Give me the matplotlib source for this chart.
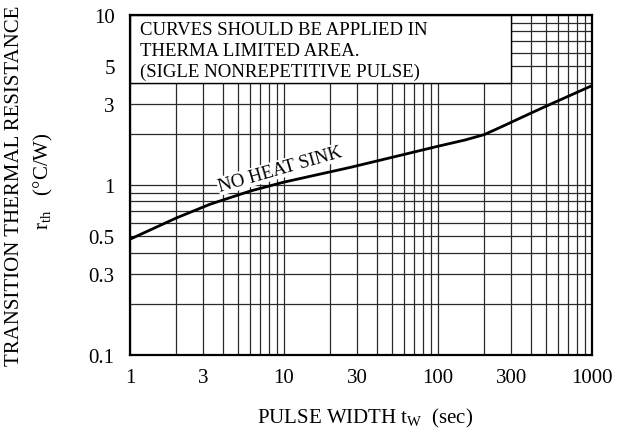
import numpy as np
import matplotlib
matplotlib.use("Agg")
import matplotlib.pyplot as plt
from matplotlib.patches import Rectangle
from matplotlib.ticker import FixedLocator, NullFormatter, LogLocator

plt.rcParams['font.family'] = ['Liberation Serif', 'DejaVu Serif']
plt.rcParams['mathtext.fontset'] = 'custom'
plt.rcParams['mathtext.rm'] = 'Liberation Serif'

# values
pulse_width = [1, 2, 3.3, 6, 10, 27, 100, 150, 200, 270, 350, 500, 1000]
r_th = [0.48, 0.64, 0.77, 0.92, 1.04, 1.27, 1.69, 1.84, 1.98, 2.24, 2.5, 2.9, 3.84]

x_ticks = [1, 3, 10, 30, 100, 300, 1000]
x_tick_labels = ["1", "3", "10", "30", "100", "300", "1000"]
y_ticks = [0.1, 0.3, 0.5, 1, 3, 5, 10]
y_tick_labels = ["0.1", "0.3", "0.5", "1", "3", "5", "10"]

note_lines = ["CURVES SHOULD BE APPLIED IN",
              "THERMA LIMITED AREA.",
              "(SIGLE NONREPETITIVE PULSE)"]

fig = plt.figure(figsize=(6.23, 4.39), dpi=100)
ax = fig.add_axes([0.2087, 0.189, 0.7415, 0.7746])

ax.set_xscale("log")
ax.set_yscale("log")
ax.set_xlim(1, 1000)
ax.set_ylim(0.1, 10)

ax.xaxis.set_major_locator(FixedLocator(x_ticks))
ax.set_xticklabels(x_tick_labels)
ax.yaxis.set_major_locator(FixedLocator(y_ticks))
ax.set_yticklabels(y_tick_labels)
ax.xaxis.set_minor_locator(LogLocator(base=10, subs=np.arange(1, 10)))
ax.yaxis.set_minor_locator(LogLocator(base=10, subs=np.arange(1, 10)))
ax.xaxis.set_minor_formatter(NullFormatter())
ax.yaxis.set_minor_formatter(NullFormatter())
ax.tick_params(which="both", length=0, labelsize=15)
ax.tick_params(axis="y", pad=11)
ax.tick_params(axis="x", pad=9)

ax.set_axisbelow(True)
ax.grid(which="both", color="#2a2a2a", lw=0.9)
for s in ax.spines.values():
    s.set_linewidth(1.6)

# white note box over the grid
ax.add_patch(Rectangle((1, 4), 299, 6, facecolor="white", edgecolor="black",
                       lw=1.0, zorder=1))
for i, line in enumerate(note_lines):
    ax.text(0.0216, 0.944 - i * 0.0615, line, transform=ax.transAxes,
            fontsize=13.5, va="baseline", ha="left", zorder=3)

ax.plot(pulse_width, r_th, color="black", lw=2.0, zorder=4)

ax.text(9.4, 1.24, "NO HEAT SINK", rotation=16, ha="center", va="center",
        fontsize=13.5, zorder=3,
        bbox=dict(facecolor="white", edgecolor="none", pad=0.5))

fig.text(15 / 623, 1 - 186 / 439, "TRANSITION THERMAL RESISTANCE",
         rotation=90, ha="center", va="center", fontsize=15)
fig.text(43 / 623, 1 - 181 / 439, r"$\mathrm{r}_{\mathrm{th}}$   (°C/W)",
         rotation=90, ha="center", va="center", fontsize=15)
fig.text(365 / 623, 1 - 418 / 439, r"PULSE WIDTH t$_{\mathrm{W}}$  (sec)",
         ha="center", va="center", fontsize=15)

fig.savefig("out.png", dpi=100)
